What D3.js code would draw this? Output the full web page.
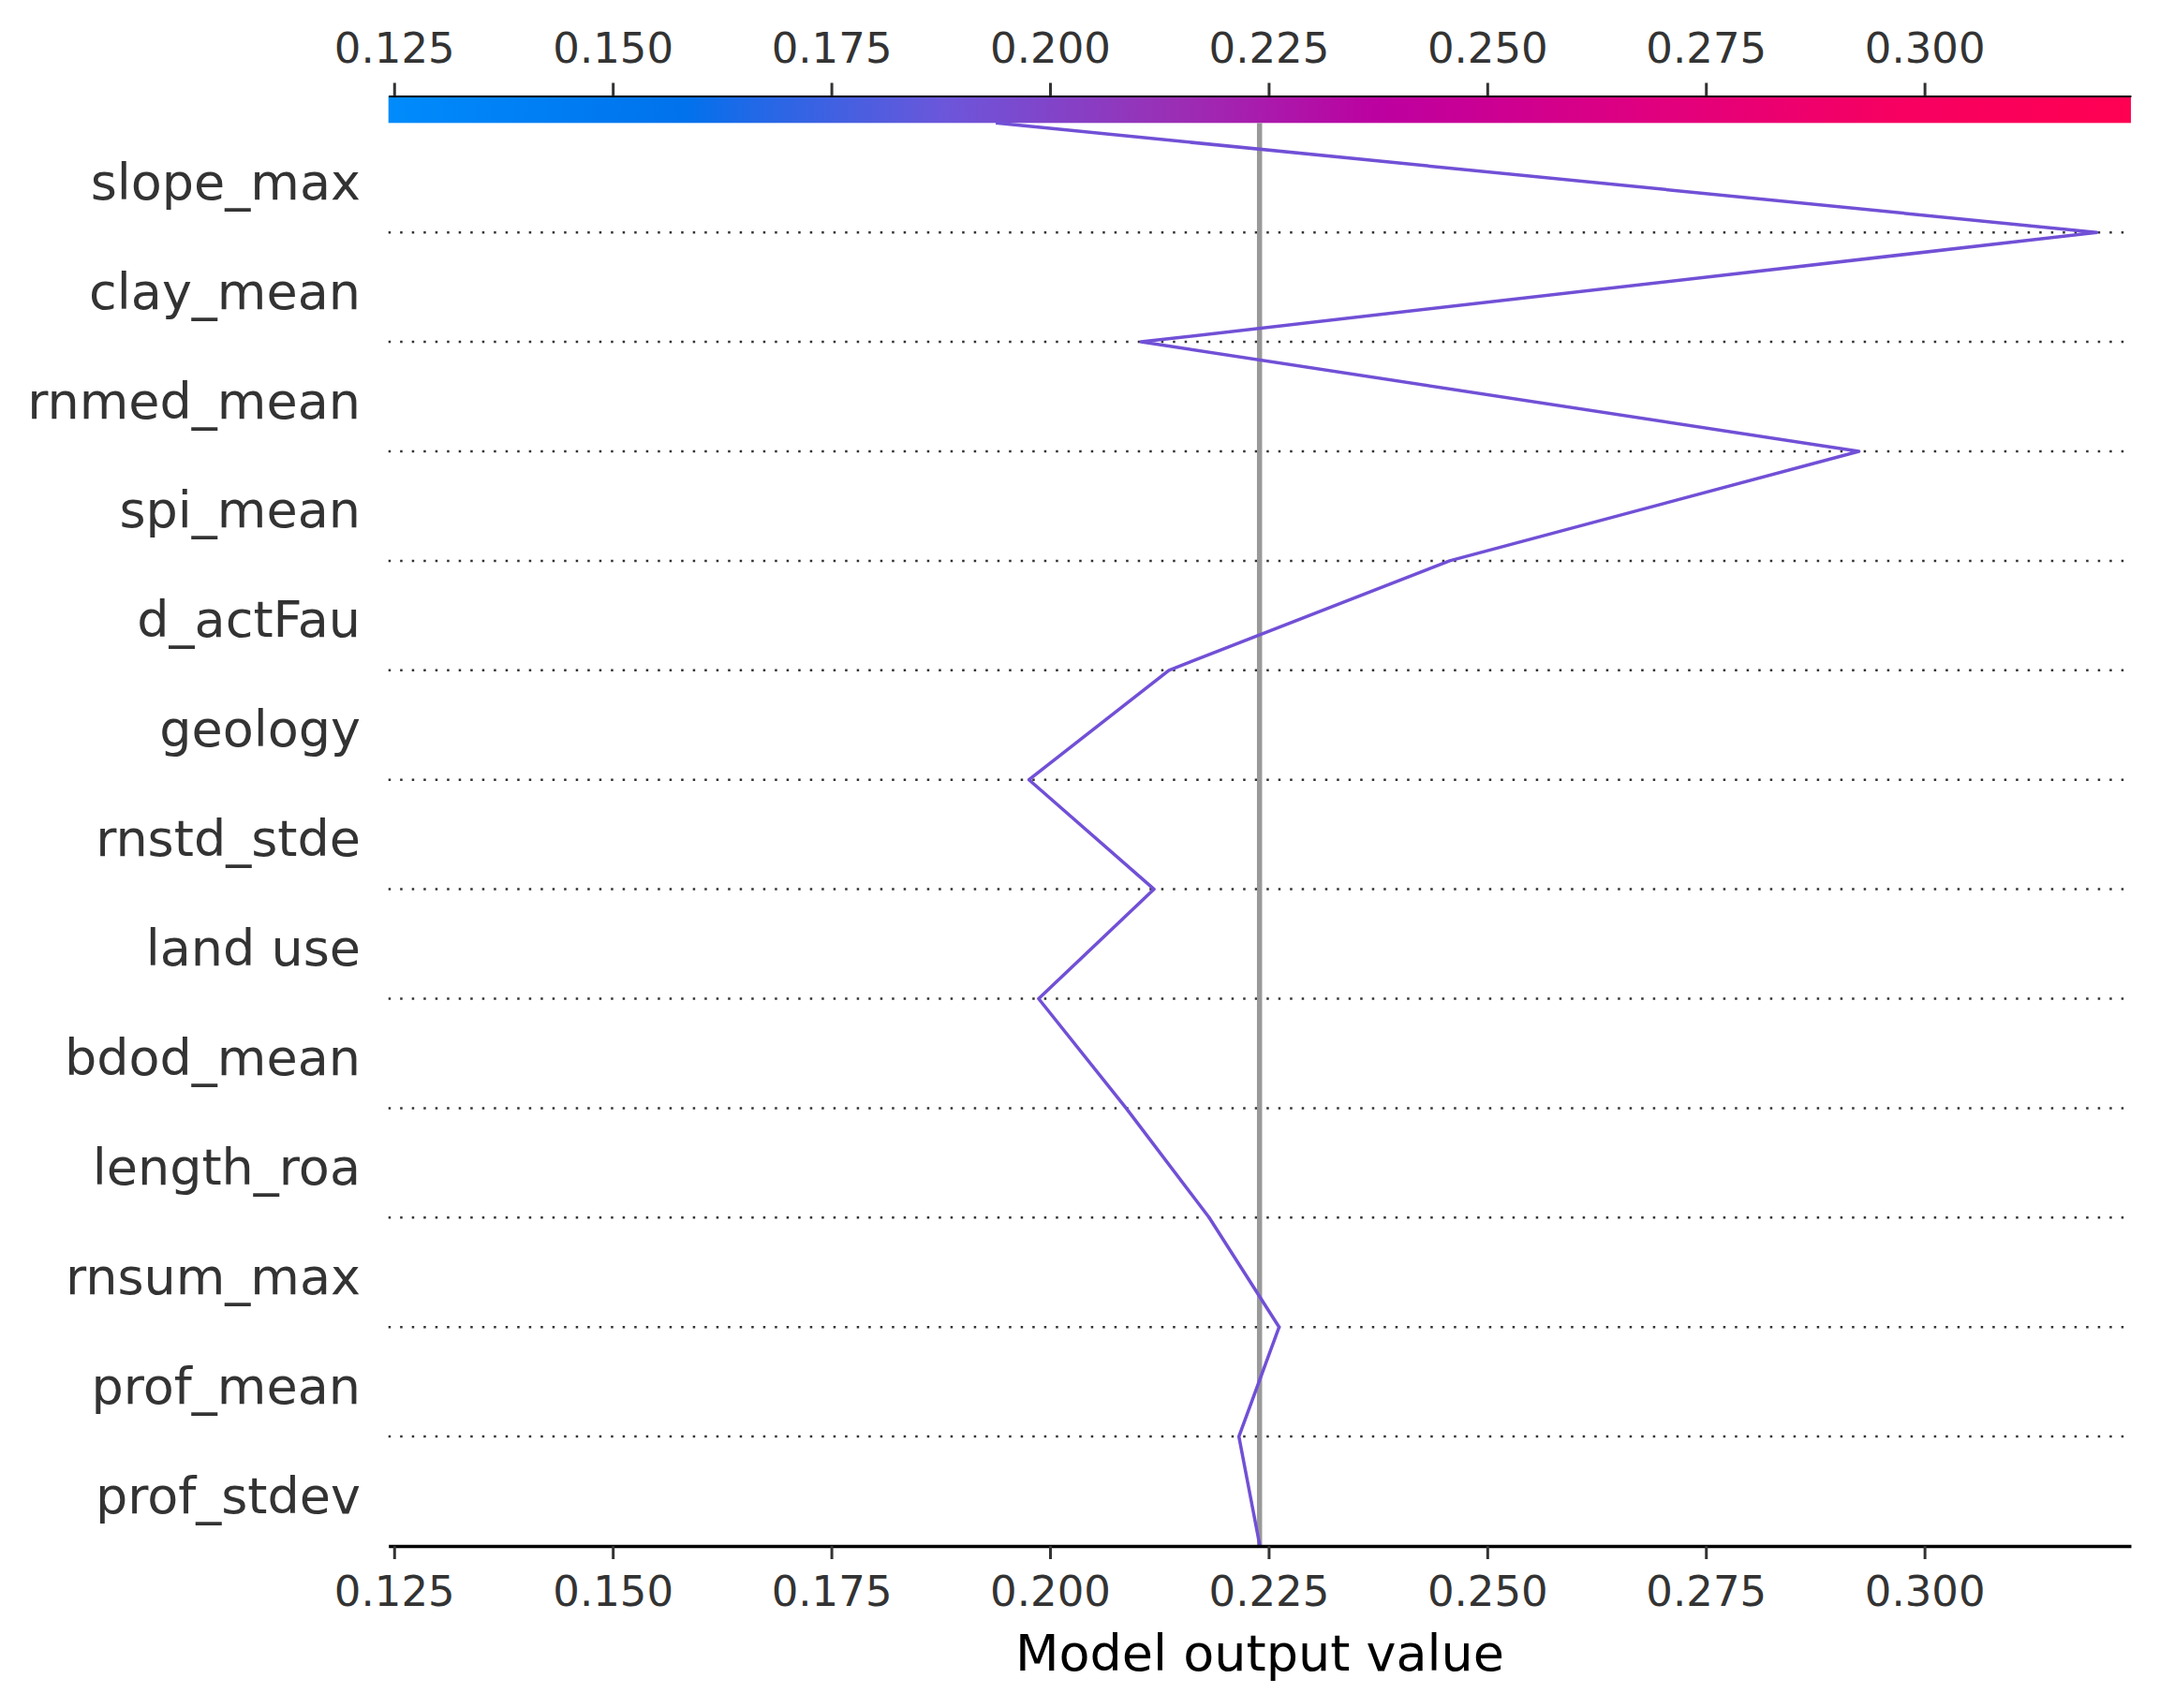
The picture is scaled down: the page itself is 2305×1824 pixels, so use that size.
<!DOCTYPE html>
<html>
<head>
<meta charset="utf-8">
<script src="https://cdn.jsdelivr.net/npm/d3@7"></script>
<style>
  body { margin: 0; background: #fff; }
  text { font-family: "DejaVu Sans", sans-serif; }
</style>
</head>
<body>
<div id="canvas"></div>
<script>
// features, top to bottom
const features = ["slope_max", "clay_mean", "rnmed_mean", "spi_mean", "d_actFau", "geology",
  "rnstd_stde", "land use", "bdod_mean", "length_roa", "rnsum_max", "prof_mean", "prof_stdev"];
// cumulative model output at each row boundary, top to bottom (last = base value)
const cumValues = [0.1938, 0.3197, 0.2104, 0.2925, 0.2457, 0.2136, 0.1976, 0.2119,
  0.1987, 0.2087, 0.2182, 0.2262, 0.2216, 0.2240];
const baseValue = 0.22396;
const xTicks = [0.125, 0.150, 0.175, 0.200, 0.225, 0.250, 0.275, 0.300];
const xDomain = [0.12435, 0.3236];

const width = 2305;
const height = 1824;
const plotLeft = 414.7, plotRight = 2275;
const plotTop = 131.3, plotBottom = 1651;

const svg = d3.select("#canvas").append("svg")
  .attr("width", width)
  .attr("height", height);

const x = d3.scaleLinear().domain(xDomain).range([plotLeft, plotRight]);
const n = features.length;
const y = d3.scaleLinear().domain([0, n]).range([plotBottom, plotTop]);

// colorbar gradient (shap red_blue)
const defs = svg.append("defs");
const grad = defs.append("linearGradient").attr("id", "rb")
  .attr("x1", "0%").attr("x2", "100%").attr("y1", "0%").attr("y2", "0%");
[[0, "#008bfb"], [0.17, "#0072ec"], [0.2, "#1a6ae8"], [0.32, "#6c56da"], [0.45, "#9a2fb5"],
 [0.57, "#bd00a0"], [0.72, "#df0080"], [0.86, "#f60062"], [1, "#ff0052"]]
  .forEach(s => grad.append("stop").attr("offset", s[0]).attr("stop-color", s[1]));

svg.append("rect")
  .attr("x", plotLeft).attr("y", 102.5)
  .attr("width", plotRight - plotLeft).attr("height", plotTop - 102.5)
  .attr("fill", "url(#rb)");

// top axis
const topAxis = svg.append("g")
  .attr("transform", `translate(0, 102.5)`)
  .call(d3.axisTop(x).tickValues(xTicks).tickFormat(d3.format(".3f")).tickSize(14).tickPadding(22).tickSizeOuter(0));
topAxis.select(".domain").attr("stroke", "#000").attr("stroke-width", 2);
topAxis.selectAll(".tick line").attr("stroke", "#333").attr("stroke-width", 3);
topAxis.selectAll(".tick text").attr("fill", "#333").attr("font-size", 45);

// dotted row separators
svg.append("g").selectAll("line")
  .data(d3.range(1, n))
  .join("line")
  .attr("x1", plotLeft).attr("x2", plotRight)
  .attr("y1", d => y(d)).attr("y2", d => y(d))
  .attr("stroke", "#333")
  .attr("stroke-width", 2.5)
  .attr("stroke-dasharray", "2.5,10");

// base value line
svg.append("line")
  .attr("x1", x(baseValue)).attr("x2", x(baseValue))
  .attr("y1", plotTop).attr("y2", plotBottom)
  .attr("stroke", "#999")
  .attr("stroke-width", 5.5);

// decision line
const pts = cumValues.map((v, i) => [x(v), y(n - i)]);
svg.append("path")
  .attr("d", d3.line()(pts))
  .attr("fill", "none")
  .attr("stroke", "#7150d6")
  .attr("stroke-width", 3.5)
  .attr("stroke-linejoin", "round");

// feature labels
svg.append("g").selectAll("text")
  .data(features)
  .join("text")
  .attr("x", 385)
  .attr("y", (d, i) => y(n - i - 0.5) + 23)
  .attr("text-anchor", "end")
  .attr("fill", "#333")
  .attr("font-size", 54)
  .text(d => d);

// bottom axis
const botAxis = svg.append("g")
  .attr("transform", `translate(0, ${plotBottom})`)
  .call(d3.axisBottom(x).tickValues(xTicks).tickFormat(d3.format(".3f")).tickSize(14).tickPadding(18).tickSizeOuter(0));
botAxis.select(".domain").attr("stroke", "#000").attr("stroke-width", 3.5);
botAxis.selectAll(".tick line").attr("stroke", "#333").attr("stroke-width", 3);
botAxis.selectAll(".tick text").attr("fill", "#333").attr("font-size", 45);

svg.append("text")
  .attr("x", 1345).attr("y", 1784)
  .attr("text-anchor", "middle")
  .attr("fill", "#000")
  .attr("font-size", 54)
  .text("Model output value");
</script>
</body>
</html>
